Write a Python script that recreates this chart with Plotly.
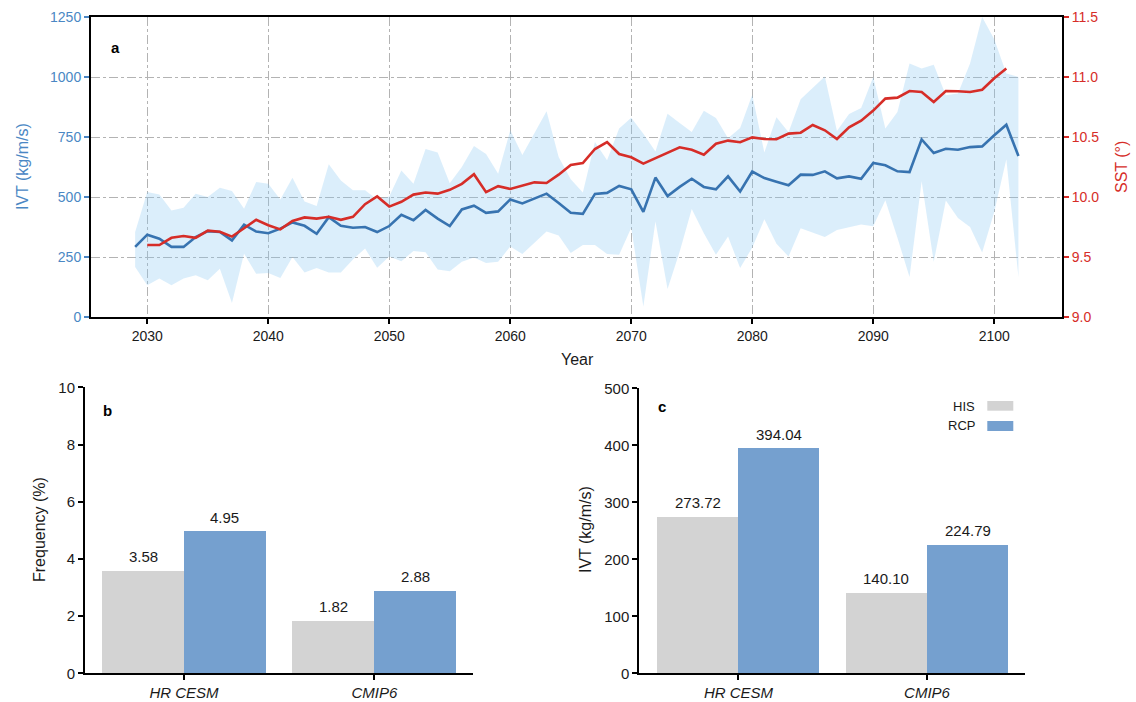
import plotly.graph_objects as go

# ---------------- data ----------------
years = list(range(2029, 2103))
ivt_mean = [292, 343, 326, 292, 292, 333, 358, 354, 319, 385,
            356, 349, 368, 394, 380, 347, 416, 380, 372, 375,
            354, 379, 426, 403, 446, 410, 379, 448, 464, 434,
            440, 490, 473, 494, 514, 475, 434, 430, 513, 517,
            546, 532, 438, 581, 504, 542, 576, 542, 532, 586,
            523, 606, 579, 564, 549, 593, 592, 607, 578, 586,
            576, 642, 632, 607, 604, 740, 683, 701, 697, 708,
            711, 757, 801, 671]
ivt_upper = [354, 521, 510, 444, 455, 514, 500, 539, 525, 451,
             562, 555, 490, 580, 481, 462, 636, 569, 528, 528,
             490, 502, 610, 555, 700, 685, 557, 625, 713, 679,
             597, 778, 675, 764, 857, 667, 574, 519, 729, 653,
             785, 830, 764, 690, 847, 808, 771, 859, 829, 745,
             787, 926, 685, 832, 770, 907, 956, 1002, 775, 846,
             871, 1000, 785, 854, 1056, 1035, 1051, 924, 931, 1056,
             1250, 1157, 1015, 1000]
ivt_lower = [208, 132, 160, 132, 160, 174, 153, 201, 58, 264,
             180, 183, 162, 250, 185, 204, 185, 185, 240, 285,
             205, 252, 232, 275, 270, 198, 191, 230, 248, 225,
             230, 294, 263, 308, 356, 340, 267, 300, 300, 263,
             259, 372, 44, 398, 117, 272, 450, 349, 259, 335,
             204, 290, 407, 305, 252, 370, 350, 333, 363, 373,
             385, 378, 486, 330, 167, 566, 230, 485, 412, 375,
             269, 438, 657, 167]
sst_years = list(range(2030, 2102))
sst = [9.60, 9.60, 9.66, 9.675, 9.66, 9.72, 9.71, 9.67, 9.74, 9.81,
       9.765, 9.73, 9.80, 9.83, 9.82, 9.835, 9.81, 9.835, 9.94, 10.005,
       9.92, 9.96, 10.02, 10.037, 10.028, 10.06, 10.11, 10.19, 10.04, 10.09,
       10.067, 10.094, 10.122, 10.117, 10.186, 10.267, 10.283, 10.40, 10.458, 10.358,
       10.331, 10.278, 10.325, 10.372, 10.414, 10.394, 10.353, 10.444, 10.47, 10.456,
       10.497, 10.483, 10.481, 10.528, 10.536, 10.60, 10.556, 10.483, 10.581, 10.636,
       10.72, 10.82, 10.828, 10.883, 10.875, 10.792, 10.883, 10.881, 10.875, 10.894,
       10.99, 11.07]

categories = ["HR CESM", "CMIP6"]
freq_his = [3.58, 1.82]
freq_rcp = [4.95, 2.88]
ivtbar_his = [273.72, 140.10]
ivtbar_rcp = [394.04, 224.79]

# ---------------- style ----------------
FONT = "Liberation Sans, Arial, sans-serif"
BLUE_LINE = "#3773b0"
BLUE_TXT = "#4a87c4"
RED = "#d62d28"
BAND = "rgba(135,198,242,0.30)"
GRAY_BAR = "#d3d3d3"
BLUE_BAR = "#75a0cf"
GRID = "#b3b3b3"
TXT = "#1a1a1a"
W, H = 1136, 702

def px(x):
    return x / W

def py(y):
    return 1 - y / H

fig = go.Figure()

# ---- panel a ----
fig.add_trace(go.Scatter(x=years, y=ivt_lower, mode="lines", line=dict(width=0),
                         hoverinfo="skip", showlegend=False, xaxis="x", yaxis="y"))
fig.add_trace(go.Scatter(x=years, y=ivt_upper, mode="lines", line=dict(width=0),
                         fill="tonexty", fillcolor=BAND, showlegend=False,
                         xaxis="x", yaxis="y"))
fig.add_trace(go.Scatter(x=years, y=ivt_mean, mode="lines",
                         line=dict(color=BLUE_LINE, width=2.6), showlegend=False,
                         xaxis="x", yaxis="y"))
fig.add_trace(go.Scatter(x=sst_years, y=sst, mode="lines",
                         line=dict(color=RED, width=2.6), showlegend=False,
                         xaxis="x", yaxis="y2"))

# ---- panels b, c ----
xpos = list(range(len(categories)))
bw = 0.43
for xa, ya, his, rcp in (("x2", "y3", freq_his, freq_rcp),
                         ("x3", "y4", ivtbar_his, ivtbar_rcp)):
    fig.add_trace(go.Bar(x=xpos, y=his, width=bw, offset=-bw, marker_color=GRAY_BAR,
                         marker_line_width=0, showlegend=False, xaxis=xa, yaxis=ya))
    fig.add_trace(go.Bar(x=xpos, y=rcp, width=bw, offset=0, marker_color=BLUE_BAR,
                         marker_line_width=0, showlegend=False, xaxis=xa, yaxis=ya))

annotations = []
for xa, ya, his, rcp in (("x2", "y3", freq_his, freq_rcp),
                         ("x3", "y4", ivtbar_his, ivtbar_rcp)):
    for i in xpos:
        for val, off in ((his[i], -bw / 2), (rcp[i], bw / 2)):
            annotations.append(dict(x=i + off, y=val, xref=xa, yref=ya,
                                    text=f"{val:.2f}", showarrow=False,
                                    xanchor="center", yanchor="bottom", yshift=4,
                                    font=dict(size=15, color=TXT)))

axis_common = dict(showline=True, linecolor="black", linewidth=2, ticks="outside",
                   ticklen=5, tickwidth=1.5, tickcolor="black", zeroline=False,
                   automargin=False, tickfont=dict(size=14, color=TXT))

layout = dict(
    width=W, height=H, margin=dict(l=0, r=0, t=0, b=0, autoexpand=False),
    paper_bgcolor="white", plot_bgcolor="white",
    font=dict(family=FONT, size=14, color=TXT),
    bargap=0, barmode="overlay",
    xaxis=dict(axis_common, domain=[px(91), px(1062)], range=[2025.35, 2105.6],
               tickvals=[2030, 2040, 2050, 2060, 2070, 2080, 2090, 2100],
               showgrid=True, gridcolor=GRID, griddash="dashdot", gridwidth=1,
               mirror=True, anchor="y"),
    yaxis=dict(axis_common, domain=[py(317), py(17)], range=[0, 1250], dtick=250,
               showgrid=True, gridcolor=GRID, griddash="dashdot", gridwidth=1,
               tickfont=dict(size=14, color=BLUE_TXT), tickcolor=BLUE_TXT,
               anchor="x"),
    yaxis2=dict(axis_common, overlaying="y", side="right", range=[9, 11.5], dtick=0.5,
                tickformat=".1f", showgrid=False, anchor="x",
                tickfont=dict(size=14, color=RED), tickcolor=RED),
    xaxis2=dict(axis_common, domain=[px(85), px(473.3)], range=[-0.52, 1.52],
                tickvals=xpos, ticktext=[f"<i>{c}</i>" for c in categories],
                tickfont=dict(size=15, color=TXT),
                showgrid=False, anchor="y3"),
    yaxis3=dict(axis_common, domain=[py(673.3), py(387.3)], range=[0, 10], dtick=2,
                tickfont=dict(size=15, color=TXT),
                showgrid=False, anchor="x2"),
    xaxis3=dict(axis_common, domain=[px(639.3), px(1025)], range=[-0.526, 1.52],
                tickvals=xpos, ticktext=[f"<i>{c}</i>" for c in categories],
                tickfont=dict(size=15, color=TXT),
                showgrid=False, anchor="y4"),
    yaxis4=dict(axis_common, domain=[py(673.3), py(388.3)], range=[0, 500], dtick=100,
                tickfont=dict(size=15, color=TXT),
                showgrid=False, anchor="x3"),
)

# axis titles and panel letters
annotations += [
    dict(x=px(22), y=py(167), text="IVT (kg/m/s)", textangle=-90, font=dict(size=16, color=BLUE_TXT)),
    dict(x=px(1121), y=py(167), text="SST (°)", textangle=-90, font=dict(size=16, color=RED)),
    dict(x=px(577), y=py(359), text="Year", font=dict(size=16)),
    dict(x=px(39), y=py(530), text="Frequency (%)", textangle=-90, font=dict(size=16)),
    dict(x=px(585), y=py(530), text="IVT (kg/m/s)", textangle=-90, font=dict(size=16)),
    dict(x=px(115), y=py(48), text="<b>a</b>", font=dict(size=15, color="black")),
    dict(x=px(107), y=py(410), text="<b>b</b>", font=dict(size=15, color="black")),
    dict(x=px(662), y=py(406), text="<b>c</b>", font=dict(size=15, color="black")),
    dict(x=px(977), y=py(406), text="HIS", xanchor="right", font=dict(size=13)),
    dict(x=px(977), y=py(426), text="RCP", xanchor="right", font=dict(size=13)),
]
for a in annotations:
    a.setdefault("xref", "paper")
    a.setdefault("yref", "paper")
    a.setdefault("showarrow", False)
    a.setdefault("xanchor", "center")
    a.setdefault("yanchor", "middle")

shapes = [
    dict(type="rect", xref="paper", yref="paper", x0=px(987.3), x1=px(1013.3),
         y0=py(410.7), y1=py(401), fillcolor=GRAY_BAR, line=dict(width=0)),
    dict(type="rect", xref="paper", yref="paper", x0=px(987.3), x1=px(1013.3),
         y0=py(431), y1=py(421), fillcolor=BLUE_BAR, line=dict(width=0)),
]

fig.update_layout(**layout, annotations=annotations, shapes=shapes)
fig.write_html("out.html")
